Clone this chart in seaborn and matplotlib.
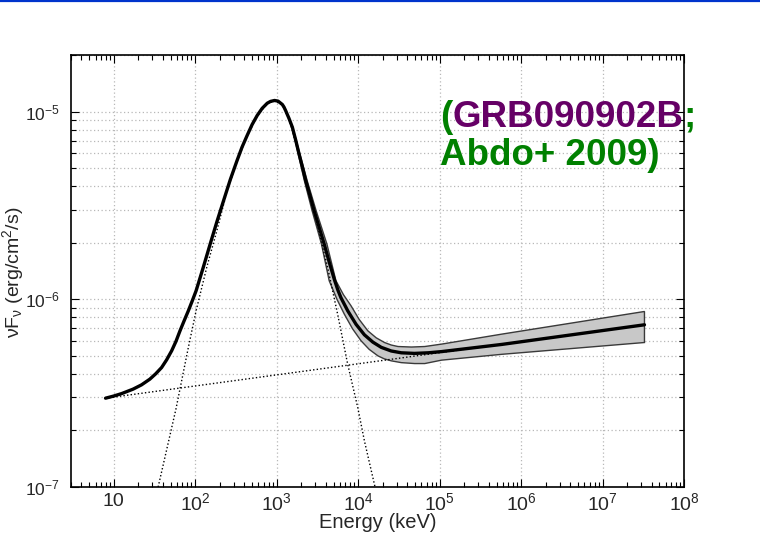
import numpy as np
import pandas as pd
import matplotlib
matplotlib.use("Agg")
import matplotlib.pyplot as plt
import seaborn as sns
from matplotlib.lines import Line2D
from matplotlib.ticker import LogLocator, NullFormatter, FixedLocator, FixedFormatter

# ---------------- data ----------------
energy_total = [7.96, 10.0, 12.56, 17.31, 21.98, 27.83, 32.81, 38.81, 44.74, 51.55, 58.28,
                65.29, 73.35, 82.67, 92.1, 102.9, 125.6, 153.2, 185.3, 223.6, 270.4, 327.2,
                377.1, 434.8, 501.2, 577.8, 666.1, 767.9, 843.4, 944.7, 1043.5, 1176, 1231,
                1291, 1419, 1562, 1717, 1885, 2077, 2280, 2570, 2887, 3329, 3837, 4447,
                5128, 5664, 6168, 7463, 9447, 11960, 15190, 19230, 25550, 33960, 49130,
                72540, 1.059e5, 2.485e5, 5.826e5, 3.272e7]
flux_total = [2.972e-7, 3.050e-7, 3.145e-7, 3.320e-7, 3.499e-7, 3.753e-7, 4.006e-7, 4.328e-7,
              4.757e-7, 5.313e-7, 5.970e-7, 6.792e-7, 7.678e-7, 8.684e-7, 9.781e-7, 1.110e-6,
              1.472e-6, 1.970e-6, 2.590e-6, 3.352e-6, 4.338e-6, 5.480e-6, 6.466e-6, 7.447e-6,
              8.524e-6, 9.521e-6, 1.040e-5, 1.107e-5, 1.132e-5, 1.145e-5, 1.136e-5, 1.090e-5,
              1.057e-5, 1.012e-5, 9.198e-6, 8.247e-6, 7.039e-6, 5.949e-6, 5.052e-6, 4.285e-6,
              3.565e-6, 2.965e-6, 2.418e-6, 1.970e-6, 1.566e-6, 1.271e-6, 1.117e-6, 1.019e-6,
              8.684e-7, 7.356e-7, 6.466e-7, 5.912e-7, 5.546e-7, 5.302e-7, 5.186e-7, 5.148e-7,
              5.186e-7, 5.263e-7, 5.500e-7, 5.748e-7, 7.311e-7]

band_upper_e = [1291, 1576, 1929, 2373, 3056, 4143, 5350, 6622, 8196, 10290, 13180, 16690,
                21120, 25550, 30920, 45110, 65850, 1.059e5, 5.826e5, 3.272e7]
band_upper_f = [1.012e-5, 8.247e-6, 5.949e-6, 4.285e-6, 2.965e-6, 1.970e-6, 1.255e-6,
                1.057e-6, 9.233e-7, 7.822e-7, 6.792e-7, 6.233e-7, 5.883e-7, 5.705e-7,
                5.601e-7, 5.566e-7, 5.601e-7, 5.769e-7, 6.522e-7, 8.608e-7]
band_lower_e = [1291, 1549, 1843, 2191, 2728, 3553, 4423, 5505, 6775, 8555, 10890, 13670,
                17510, 20940, 25550, 33960, 49550, 65850, 1.059e5, 5.826e5, 3.272e7]
band_lower_f = [1.012e-5, 8.247e-6, 5.949e-6, 4.285e-6, 2.965e-6, 1.970e-6, 1.255e-6,
                1.0e-6, 8.339e-7, 6.962e-7, 6.007e-7, 5.412e-7, 4.996e-7, 4.816e-7,
                4.699e-7, 4.596e-7, 4.545e-7, 4.545e-7, 4.739e-7, 5.091e-7, 5.883e-7]

band_comp_e = [35.2, 58.2, 82.6, 103, 139, 185, 246, 327.2, 434.8, 577.8, 767.9, 944.7,
               1176, 1419, 1885, 2570, 2887, 4227, 5610, 7460, 9910, 11970, 15900, 16600]
band_comp_f = [1.0e-7, 2.6e-7, 5.53e-7, 8.7e-7, 1.48e-6, 2.32e-6, 3.75e-6, 5.43e-6, 7.40e-6,
               9.47e-6, 1.102e-5, 1.140e-5, 1.085e-5, 9.15e-6, 5.92e-6, 3.53e-6, 2.93e-6,
               1.48e-6, 8.34e-7, 4.51e-7, 2.65e-7, 1.76e-7, 1.03e-7, 9.5e-8]

pl_e = [7.96, 3.272e7]
pl_f = [2.972e-7, 7.311e-7]

x_tick_values = [10, 1e2, 1e3, 1e4, 1e5, 1e6, 1e7, 1e8]
x_tick_labels = ["10", r"$10^{2}$", r"$10^{3}$", r"$10^{4}$", r"$10^{5}$",
                 r"$10^{6}$", r"$10^{7}$", r"$10^{8}$"]
y_tick_values = [1e-7, 1e-6, 1e-5]
y_tick_labels = [r"$10^{-7}$", r"$10^{-6}$", r"$10^{-5}$"]

# ---------------- style ----------------
sns.set_style("ticks")
plt.rcParams["font.family"] = ["Liberation Sans", "DejaVu Sans"]
plt.rcParams["mathtext.fontset"] = "custom"
plt.rcParams["mathtext.rm"] = "Liberation Sans"
plt.rcParams["mathtext.it"] = "Liberation Sans:italic"
plt.rcParams["mathtext.bf"] = "Liberation Sans:bold"
plt.rcParams["mathtext.default"] = "regular"

fig = plt.figure(figsize=(7.6, 5.33), dpi=100)
ax = fig.add_axes([71 / 760, 1 - 487 / 533, (684 - 71) / 760, (487 - 55) / 533])
ax.set_xscale("log")
ax.set_yscale("log")
ax.set_xlim(3, 1e8)
ax.set_ylim(1e-7, 2e-5)

# grid
ax.xaxis.set_minor_locator(LogLocator(base=10, subs=np.arange(2, 10), numticks=200))
ax.yaxis.set_minor_locator(LogLocator(base=10, subs=np.arange(2, 10), numticks=200))
ax.xaxis.set_minor_formatter(NullFormatter())
ax.yaxis.set_minor_formatter(NullFormatter())
ax.grid(True, which="major", axis="both", ls=(0, (1, 2)), color="#b8b8b8", lw=0.9, zorder=0)
ax.grid(True, which="minor", axis="y", ls=(0, (1, 2)), color="#b8b8b8", lw=0.9, zorder=0)
ax.set_axisbelow(True)

# shaded uncertainty band
poly_e = list(band_upper_e) + list(band_lower_e[::-1])
poly_f = list(band_upper_f) + list(band_lower_f[::-1])
ax.fill(poly_e, poly_f, facecolor="#c8c8c8", edgecolor="#3a3a3a", lw=1.0, zorder=2)

# model components (dotted)
sns.lineplot(x=band_comp_e, y=band_comp_f, ax=ax, color="black", lw=1.0,
             linestyle=(0, (1, 1.6)), estimator=None, sort=False, zorder=3)
sns.lineplot(x=pl_e, y=pl_f, ax=ax, color="black", lw=1.0,
             linestyle=(0, (1, 1.6)), estimator=None, sort=False, zorder=3)
# total model
sns.lineplot(x=energy_total, y=flux_total, ax=ax, color="black", lw=2.4,
             estimator=None, sort=False, zorder=4)

# ticks
ax.xaxis.set_major_locator(FixedLocator(x_tick_values))
ax.xaxis.set_major_formatter(FixedFormatter(x_tick_labels))
ax.yaxis.set_major_locator(FixedLocator(y_tick_values))
ax.yaxis.set_major_formatter(FixedFormatter(y_tick_labels))
ax.tick_params(which="both", direction="in", top=True, right=True, color="black", width=0.8)
ax.tick_params(which="major", length=6)
ax.tick_params(which="minor", length=3.5)
ax.tick_params(axis="x", which="major", labelsize=14, pad=4)
ax.tick_params(axis="y", which="major", labelsize=12.5, pad=8)
for s in ax.spines.values():
    s.set_color("black")
    s.set_linewidth(1.2)

# axis labels
fig.text(377.5 / 760, 1 - 523 / 533, "Energy (keV)", ha="center", va="center", fontsize=14.5)
fig.text(13.5 / 760, 1 - 272 / 533, r"νF$_{\mathrm{ν}}$ (erg/cm$^{2}$/s)", ha="center",
         va="center", rotation=90, fontsize=14)

# annotation (multi-coloured)
green = "#008000"
purple = "#660066"
fs = 26.5
t1 = fig.text(440 / 760, 1 - 126.7 / 533, "(", color=green, fontsize=fs,
              fontweight="bold", ha="left", va="baseline", zorder=10)
t2 = ax.annotate("GRB090902B", xy=(1, 0), xycoords=t1, color=purple, fontsize=fs,
                 fontweight="bold", ha="left", va="bottom", zorder=10, annotation_clip=False)
t3 = ax.annotate(";", xy=(1, 0), xycoords=t2, color=green, fontsize=fs,
                 fontweight="bold", ha="left", va="bottom", zorder=10, annotation_clip=False)
fig.text(440 / 760, 1 - 165 / 533, "Abdo+ 2009)", color=green, fontsize=fs,
         fontweight="bold", ha="left", va="baseline", zorder=10)

# slide border line at the top
fig.add_artist(Line2D([0, 1], [0.998, 0.998], transform=fig.transFigure,
                      color="#0033cc", lw=1.6))

fig.savefig("out.png", dpi=100)
